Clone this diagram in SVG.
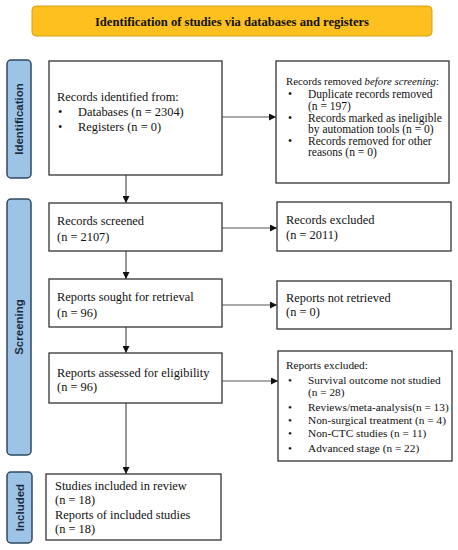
<svg xmlns="http://www.w3.org/2000/svg" width="458" height="550" viewBox="0 0 458 550">
<defs>
<marker id="ah" viewBox="0 0 10 10" refX="10" refY="5" markerWidth="7" markerHeight="7" orient="auto" markerUnits="userSpaceOnUse">
<path d="M0,0 L10,5 L0,10 z" fill="#111"/>
</marker>
<style>
.box{fill:#fff;stroke:#333;stroke-width:1.3}
.side{fill:#9DC3E6;stroke:#2E4A62;stroke-width:1.5}
.st{font-family:"Liberation Sans",Arial,sans-serif;font-weight:bold;font-size:11.5px;fill:#1C2B3C;text-anchor:middle}
.t{font-family:"Liberation Serif","Times New Roman",serif;font-size:12.4px;fill:#111}
.s{font-family:"Liberation Serif","Times New Roman",serif;font-size:11.5px;fill:#111}
.s0{font-family:"Liberation Serif","Times New Roman",serif;font-size:10.8px;fill:#111}
.x{font-family:"Liberation Serif","Times New Roman",serif;font-size:11.3px;fill:#111}
.c{stroke:#555;stroke-width:1.2;fill:none;marker-end:url(#ah)}
</style>
</defs>
<rect width="458" height="550" fill="#fff"/>

<g id="banner">
<rect x="32" y="6" width="400" height="30" rx="4" fill="#FDC01F" stroke="#D9A21A" stroke-width="1"/>
<text x="232" y="25.5" font-family="'Liberation Serif','Times New Roman',serif" font-weight="bold" font-size="12.6" text-anchor="middle" fill="#111">Identification of studies via databases and registers</text>
</g>

<g id="label-identification">
<rect class="side" x="7" y="60" width="24" height="118" rx="4"/>
<text class="st" transform="translate(23,119) rotate(-90)">Identification</text>
</g>
<g id="label-screening">
<rect class="side" x="7" y="199" width="24" height="256" rx="4"/>
<text class="st" transform="translate(23,327) rotate(-90)">Screening</text>
</g>
<g id="label-included">
<rect class="side" x="7" y="472" width="25" height="71" rx="4"/>
<text class="st" transform="translate(23.5,507.5) rotate(-90)">Included</text>
</g>

<g id="connectors">
<line class="c" x1="126" y1="175" x2="126" y2="203"/>
<line class="c" x1="222" y1="117" x2="276" y2="117"/>
<line class="c" x1="222" y1="228" x2="277" y2="228"/>
<line class="c" x1="126" y1="251" x2="126" y2="279"/>
<line class="c" x1="222" y1="305" x2="277" y2="305"/>
<line class="c" x1="126" y1="327" x2="126" y2="353"/>
<line class="c" x1="222" y1="381" x2="278" y2="381"/>
<line class="c" x1="126" y1="403" x2="126" y2="474"/>
</g>

<g id="records-identified">
<rect class="box" x="49" y="61" width="173" height="114"/>
<text class="t" x="57" y="101">Records identified from:</text>
<text class="t" x="58" y="116">•</text><text class="t" x="78" y="116">Databases (n = 2304)</text>
<text class="t" x="58" y="131">•</text><text class="t" x="78" y="131">Registers (n = 0)</text>
</g>

<g id="records-removed">
<rect class="box" x="276" y="61" width="173" height="122"/>
<text class="s0" x="286" y="85">Records removed <tspan font-style="italic">before screening</tspan>:</text>
<text class="s" x="288" y="98">•</text><text class="s" x="308" y="98">Duplicate records removed</text>
<text class="s" x="308" y="110">(n = 197)</text>
<text class="s" x="288" y="121.5">•</text><text class="s" x="308" y="121.5">Records marked as ineligible</text>
<text class="s" x="308" y="133">by automation tools (n = 0)</text>
<text class="s" x="288" y="144.5">•</text><text class="s" x="308" y="144.5">Records removed for other</text>
<text class="s" x="308" y="156">reasons (n = 0)</text>
</g>

<g id="records-screened">
<rect class="box" x="49" y="203" width="173" height="48"/>
<text class="t" x="57" y="225">Records screened</text>
<text class="t" x="57" y="241">(n = 2107)</text>
</g>

<g id="records-excluded">
<rect class="box" x="277" y="202" width="174" height="49"/>
<text class="t" x="286" y="224">Records excluded</text>
<text class="t" x="286" y="239">(n = 2011)</text>
</g>

<g id="reports-sought">
<rect class="box" x="49" y="279" width="173" height="48"/>
<text class="t" x="57" y="301">Reports sought for retrieval</text>
<text class="t" x="57" y="317">(n = 96)</text>
</g>

<g id="reports-not-retrieved">
<rect class="box" x="277" y="281" width="174" height="48"/>
<text class="t" x="286" y="302">Reports not retrieved</text>
<text class="t" x="286" y="316">(n = 0)</text>
</g>

<g id="reports-assessed">
<rect class="box" x="49" y="353" width="173" height="50"/>
<text class="t" x="57" y="377">Reports assessed for eligibility</text>
<text class="t" x="57" y="391">(n = 96)</text>
</g>

<g id="reports-excluded">
<rect class="box" x="278" y="351" width="174" height="110"/>
<text class="x" x="286" y="369">Reports excluded:</text>
<text class="x" x="288" y="384">•</text><text class="x" x="308" y="384">Survival outcome not studied</text>
<text class="x" x="308" y="396">(n = 28)</text>
<text class="x" x="288" y="411">•</text><text class="x" x="308" y="411">Reviews/meta-analysis(n = 13)</text>
<text class="x" x="288" y="424">•</text><text class="x" x="308" y="424">Non-surgical treatment (n = 4)</text>
<text class="x" x="288" y="437">•</text><text class="x" x="308" y="437">Non-CTC studies (n = 11)</text>
<text class="x" x="288" y="452">•</text><text class="x" x="308" y="452">Advanced stage (n = 22)</text>
</g>

<g id="studies-included">
<rect class="box" x="46" y="474" width="175" height="66"/>
<text class="t" x="55" y="490">Studies included in review</text>
<text class="t" x="55" y="504">(n = 18)</text>
<text class="t" x="55" y="519">Reports of included studies</text>
<text class="t" x="55" y="533">(n = 18)</text>
</g>
</svg>
